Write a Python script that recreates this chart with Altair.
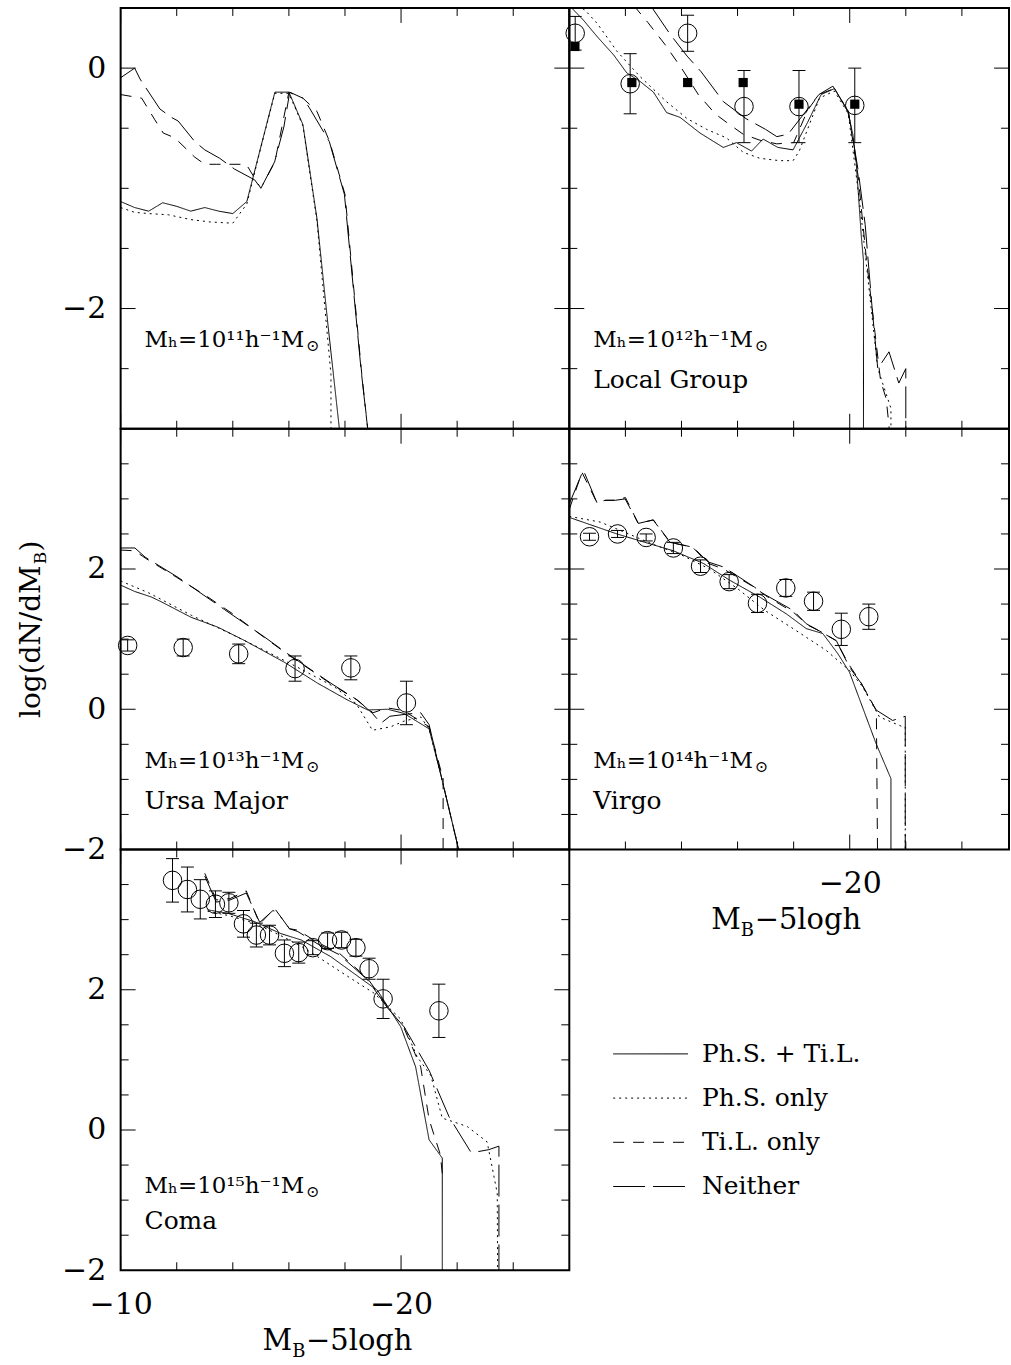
import altair as alt
import pandas as pd

FONT = "DejaVu Serif"
SERIES = ["Ph.S. + Ti.L.", "Ph.S. only", "Ti.L. only", "Neither"]
DASHES = [[1, 0], [2, 4], [11, 9], [32, 8]]

# ---------------- Panel 1: M_h = 1e11 ----------------
p1_solid_x = [-10.0, -10.5, -11.0, -11.5, -12.0, -12.5, -13.0, -13.5, -14.0, -14.5, -15.5, -16.0, -16.5, -17.0, -17.4, -17.8, -17.9]
p1_solid_y = [-1.11, -1.16, -1.19, -1.12, -1.15, -1.19, -1.16, -1.19, -1.21, -1.11, -0.20, -0.20, -0.47, -1.25, -2.15, -3.0, -3.3]
p1_dot_x = [-10.0, -10.5, -11.0, -11.7, -12.5, -13.2, -14.0, -14.5, -15.0, -15.5, -16.0, -16.5, -17.0, -17.5, -17.5]
p1_dot_y = [-1.16, -1.20, -1.21, -1.22, -1.26, -1.28, -1.29, -1.13, -0.66, -0.21, -0.21, -0.48, -1.27, -2.55, -3.5]
p1_tid_x = [-10.0, -10.75, -11.22, -11.52, -11.93, -12.64, -13.0, -13.41, -14.48, -15.0, -15.5, -16.0, -16.5, -17.0, -17.45, -18.0, -18.6, -19.0]
p1_tid_y = [-0.22, -0.25, -0.43, -0.54, -0.58, -0.74, -0.80, -0.80, -0.80, -1.0, -0.78, -0.20, -0.25, -0.36, -0.61, -1.05, -2.55, -3.4]
p1_nei_x = [-10.0, -10.5, -10.69, -11.4, -11.81, -12.05, -12.64, -13.0, -13.53, -14.06, -14.78, -15.0, -15.49, -15.82, -16.03, -16.5, -16.73, -17.44, -17.98, -18.57, -18.81, -19.0]
p1_nei_y = [-0.08, 0.0, -0.09, -0.34, -0.41, -0.44, -0.61, -0.68, -0.75, -0.84, -0.93, -1.0, -0.78, -0.49, -0.20, -0.25, -0.33, -0.61, -1.05, -2.5, -3.0, -3.3]

# ---------------- Panel 2: Local Group ----------------
p2_solid_x = [-10.0, -10.5, -11.0, -11.58, -12.05, -12.52, -13.0, -13.47, -13.95, -14.66, -15.49, -15.96, -16.5, -16.91, -17.44, -17.98, -18.5, -18.98, -19.46, -19.93, -20.11, -20.23, -20.41, -20.49, -20.49]
p2_solid_y = [0.52, 0.40, 0.26, 0.11, -0.04, -0.11, -0.20, -0.37, -0.41, -0.54, -0.66, -0.62, -0.69, -0.59, -0.66, -0.68, -0.45, -0.22, -0.17, -0.36, -0.55, -0.78, -1.39, -1.6, -3.2]
p2_dot_x = [-10.3, -10.57, -11.0, -11.7, -12.52, -13.47, -14.2, -14.9, -15.6, -16.2, -16.79, -17.5, -17.98, -18.2, -18.92, -19.45, -19.95, -20.35, -20.7, -21.0, -21.47, -21.47]
p2_dot_y = [0.52, 0.48, 0.37, 0.14, -0.07, -0.28, -0.42, -0.51, -0.58, -0.70, -0.75, -0.77, -0.77, -0.69, -0.25, -0.19, -0.38, -1.11, -1.86, -2.5, -2.83, -3.2]
p2_tid_x = [-12.3, -12.8, -13.4, -14.0, -14.6, -15.2, -15.6, -16.2, -16.8, -17.4, -18.0, -18.5, -18.9, -19.45, -19.95, -20.3, -20.6, -20.9, -21.1, -21.3, -21.5]
p2_tid_y = [0.52, 0.38, 0.20, 0.0, -0.22, -0.38, -0.45, -0.55, -0.60, -0.63, -0.62, -0.35, -0.22, -0.17, -0.36, -0.9, -1.6, -2.2, -2.6, -2.75, -3.2]
p2_nei_x = [-12.9, -13.6, -14.2, -14.7, -15.5, -16.3, -17.0, -17.4, -17.8, -18.3, -18.9, -19.4, -19.95, -20.3, -20.55, -20.8, -21.0, -21.4, -21.75, -22.0, -22.0]
p2_nei_y = [0.52, 0.28, 0.10, -0.03, -0.28, -0.42, -0.51, -0.57, -0.55, -0.40, -0.22, -0.15, -0.36, -0.85, -1.3, -2.0, -2.5, -2.36, -2.62, -2.5, -3.2]
p2_circ_m = [-10.21, -12.17, -14.22, -16.23, -18.19, -20.18]
p2_circ_v = [0.29, -0.13, 0.29, -0.32, -0.32, -0.31]
p2_circ_e = [0.14, 0.25, 0.15, 0.30, 0.30, 0.31]
p2_sq_m = [-10.2, -12.23, -14.22, -16.2, -18.19, -20.18]
p2_sq_v = [0.18, -0.12, -0.12, -0.12, -0.30, -0.30]

# ---------------- Panel 3: Ursa Major ----------------
p3_solid_x = [-10.0, -10.5, -11.1, -11.46, -12.52, -13.47, -14.42, -15.84, -17.03, -18.1, -18.81, -19.52, -20.11, -21.0, -21.41, -22.0, -22.2]
p3_solid_y = [1.77, 1.68, 1.60, 1.53, 1.31, 1.17, 0.98, 0.67, 0.37, 0.13, -0.01, 0.0, -0.06, -0.28, -0.92, -1.91, -2.3]
p3_dot_x = [-10.0, -11.0, -12.52, -13.8, -15.13, -16.3, -17.62, -18.4, -18.98, -19.63, -20.1, -20.7, -21.0, -21.4, -22.0, -22.2]
p3_dot_y = [1.83, 1.66, 1.34, 1.10, 0.84, 0.60, 0.32, 0.08, -0.30, -0.25, -0.17, -0.11, -0.28, -0.90, -1.90, -2.3]
p3_tid_x = [-10.0, -10.5, -10.9, -12.0, -13.0, -14.0, -15.0, -16.0, -17.0, -17.5, -18.4, -19.0, -19.5, -20.1, -20.6, -21.0, -21.45, -21.5, -21.5]
p3_tid_y = [2.27, 2.26, 2.15, 1.88, 1.63, 1.36, 1.06, 0.77, 0.50, 0.36, 0.14, -0.05, 0.02, -0.02, -0.15, -0.25, -0.92, -0.92, -2.3]
p3_nei_x = [-10.0, -10.51, -10.87, -12.05, -13.71, -15.13, -15.96, -17.5, -18.45, -18.98, -19.28, -19.6, -20.2, -20.7, -21.0, -21.41, -22.0, -22.2]
p3_nei_y = [2.30, 2.30, 2.17, 1.88, 1.42, 1.03, 0.79, 0.37, 0.13, -0.06, -0.20, -0.10, -0.07, -0.05, -0.22, -0.92, -1.91, -2.3]
p3_circ_m = [-10.25, -12.23, -14.21, -16.22, -18.21, -20.19]
p3_circ_v = [0.91, 0.88, 0.79, 0.58, 0.59, 0.09]
p3_circ_e = [0.08, 0.12, 0.14, 0.18, 0.17, 0.31]

# ---------------- Panel 4: Virgo ----------------
p4_solid_x = [-10.04, -11.7, -12.7, -13.71, -14.78, -15.72, -16.79, -17.74, -18.45, -19.04, -19.58, -19.99, -20.94, -21.47, -21.47]
p4_solid_y = [2.73, 2.50, 2.38, 2.26, 2.08, 1.84, 1.60, 1.36, 1.15, 1.08, 0.79, 0.53, -0.49, -0.99, -2.5]
p4_dot_x = [-10.0, -11.1, -12.0, -13.0, -14.0, -15.0, -16.0, -16.97, -17.98, -19.16, -20.0, -20.46, -21.06, -21.89, -21.98, -21.98]
p4_dot_y = [2.75, 2.67, 2.52, 2.35, 2.20, 2.00, 1.72, 1.41, 1.15, 0.84, 0.55, 0.32, -0.11, -0.25, -0.25, -2.5]
p4_tid_x = [-10.0, -10.45, -10.98, -11.3, -11.7, -12.0, -12.46, -13.0, -13.6, -14.4, -14.95, -15.5, -16.0, -16.6, -17.0, -17.5, -18.0, -18.5, -19.0, -19.5, -20.0, -20.4, -20.95, -21.0]
p4_tid_y = [2.85, 3.38, 2.95, 2.98, 2.98, 3.02, 2.65, 2.70, 2.38, 2.31, 2.08, 2.00, 1.88, 1.74, 1.62, 1.50, 1.38, 1.20, 1.10, 0.98, 0.62, 0.38, -0.02, -2.5]
p4_nei_x = [-10.0, -10.5, -10.98, -11.22, -11.64, -11.99, -12.46, -12.99, -13.59, -14.42, -14.95, -15.49, -16.0, -16.61, -16.91, -17.98, -18.45, -18.86, -19.52, -19.99, -20.41, -20.94, -21.53, -21.98, -21.98]
p4_nei_y = [2.93, 3.41, 2.95, 2.98, 2.98, 3.00, 2.65, 2.70, 2.38, 2.31, 2.10, 2.03, 1.90, 1.74, 1.65, 1.41, 1.22, 1.13, 0.98, 0.60, 0.37, -0.01, -0.16, -0.10, -2.5]
p4_circ_m = [-10.72, -11.72, -12.74, -13.71, -14.68, -15.70, -16.71, -17.72, -18.71, -19.70, -20.68]
p4_circ_v = [2.46, 2.50, 2.45, 2.30, 2.04, 1.82, 1.51, 1.73, 1.54, 1.14, 1.32]
p4_circ_e = [0.05, 0.05, 0.05, 0.08, 0.09, 0.10, 0.13, 0.12, 0.13, 0.23, 0.18]

# ---------------- Panel 5: Coma ----------------
p5_solid_x = [-13.1, -13.83, -14.78, -15.72, -16.44, -17.5, -18.33, -19.16, -19.99, -20.52, -21.0, -21.47, -21.47]
p5_solid_y = [3.14, 3.09, 2.97, 2.80, 2.71, 2.47, 2.23, 1.99, 1.47, 0.90, -0.14, -0.40, -2.5]
p5_dot_x = [-13.1, -13.83, -14.78, -15.72, -16.44, -17.03, -18.1, -19.04, -19.99, -20.58, -21.06, -21.47, -22.36, -23.07, -23.43, -23.45]
p5_dot_y = [3.12, 3.06, 2.95, 2.77, 2.62, 2.47, 2.19, 1.95, 1.58, 1.04, 0.78, 0.17, 0.05, -0.17, -0.90, -2.5]
p5_tid_x = [-13.0, -13.41, -13.9, -14.48, -14.96, -15.49, -16.02, -16.32, -17.0, -17.8, -18.81, -19.52, -20.11, -20.7, -21.0, -21.4, -21.47]
p5_tid_y = [3.66, 3.28, 3.30, 3.41, 2.94, 3.16, 2.87, 2.85, 2.68, 2.52, 2.16, 1.76, 1.45, 0.90, 0.15, -0.35, -0.62]
p5_nei_x = [-13.0, -13.41, -13.9, -14.48, -14.96, -15.43, -15.6, -16.02, -16.32, -17.0, -17.8, -18.81, -19.52, -20.11, -21.0, -21.71, -22.48, -22.72, -23.13, -23.49, -23.49]
p5_nei_y = [3.62, 3.25, 3.28, 3.38, 2.96, 3.13, 3.10, 2.87, 2.83, 2.66, 2.50, 2.14, 1.74, 1.47, 0.85, 0.19, -0.31, -0.31, -0.28, -0.23, -2.5]
p5_circ_m = [-11.85, -12.38, -12.84, -13.38, -13.86, -14.38, -14.84, -15.31, -15.84, -16.35, -16.85, -17.38, -17.88, -18.39, -18.86, -19.36, -21.35]
p5_circ_v = [3.56, 3.43, 3.29, 3.22, 3.24, 2.94, 2.78, 2.78, 2.52, 2.53, 2.60, 2.70, 2.71, 2.60, 2.30, 1.87, 1.70]
p5_circ_e = [0.31, 0.32, 0.28, 0.19, 0.15, 0.19, 0.17, 0.14, 0.19, 0.15, 0.10, 0.11, 0.11, 0.12, 0.15, 0.28, 0.38]

# ---------------- labels / ticks ----------------
mass_labels = ["Mₕ=10¹¹h⁻¹M", "Mₕ=10¹²h⁻¹M", "Mₕ=10¹³h⁻¹M", "Mₕ=10¹⁴h⁻¹M", "Mₕ=10¹⁵h⁻¹M"]
sun_symbol = "⊙"
group_names = ["", "Local Group", "Ursa Major", "Virgo", "Coma"]
x_major = [-10, -20]
x_minor = [-12, -14, -16, -18, -22, -24]
y_top_major = [0, -2]
y_top_minor = [-0.5, -1, -1.5, -2.5]
y_low_major = [0, 2]
y_low_minor = [-1.5, -1, -0.5, 0.5, 1, 1.5, 2.5, 3, 3.5]

W_L, W_R, H = 450, 441, 422
XDOM_L = [-10, -26]
XDOM_R = [-10, -25.68]
YDOM_TOP = [-3, 0.5]
YDOM_LOW = [-2, 4]
LABEL_SIZE = 30


def xenc(field, dom, vals):
    if vals:
        axis = alt.Axis(values=vals, ticks=False, tickSize=0, domain=False, grid=False,
                        labelFont=FONT, labelFontSize=LABEL_SIZE, labelColor="black",
                        labelPadding=19, labelFlush=False, labelOverlap=False, title=None)
    else:
        axis = None
    return alt.X(f"{field}:Q", scale=alt.Scale(domain=dom, nice=False, zero=False), axis=axis)


def yenc(field, dom, vals):
    if vals:
        axis = alt.Axis(values=vals, ticks=False, tickSize=0, domain=False, grid=False,
                        labelFont=FONT, labelFontSize=LABEL_SIZE, labelColor="black",
                        labelPadding=15, labelFlush=False, labelOverlap=False, title=None)
    else:
        axis = None
    return alt.Y(f"{field}:Q", scale=alt.Scale(domain=dom, nice=False, zero=False), axis=axis)


def text_layer(txt, x, y, size, align="left", angle=0):
    kw = dict(font=FONT, fontSize=size, align=align, baseline="middle", color="black")
    if angle:
        kw["angle"] = angle
    return alt.Chart(pd.DataFrame({"t": [txt]})).mark_text(**kw).encode(
        text="t:N", x=alt.value(x), y=alt.value(y))


def make_panel(series_xy, xdom, ydom, width, xvals, yvals, ymaj, ymin, mass, mass_y, name,
               circ=None, sq=None, extra=()):
    X = lambda f: xenc(f, xdom, xvals)
    Y = lambda f: yenc(f, ydom, yvals)
    rows = []
    for s, (xs, ys) in zip(SERIES, series_xy):
        for i, (a, b) in enumerate(zip(xs, ys)):
            rows.append({"m": a, "v": b, "s": s, "i": i})
    ldf = pd.DataFrame(rows)
    layers = [alt.Chart(ldf).mark_line(clip=True, color="black", strokeWidth=1).encode(
        x=X("m"), y=Y("v"),
        strokeDash=alt.StrokeDash("s:N", scale=alt.Scale(domain=SERIES, range=DASHES), legend=None),
        order="i:Q")]
    if circ is not None:
        cm, cv, ce = circ
        cdf = pd.DataFrame({"m": cm, "v": cv,
                            "lo": [a - b for a, b in zip(cv, ce)],
                            "hi": [a + b for a, b in zip(cv, ce)]})
        base = alt.Chart(cdf)
        layers.append(base.mark_rule(color="black", strokeWidth=1, clip=True).encode(
            x=X("m"), y=Y("lo"), y2="hi:Q"))
        layers.append(base.mark_tick(orient="horizontal", size=13, thickness=1, color="black", opacity=1).encode(
            x=X("m"), y=Y("lo")))
        layers.append(base.mark_tick(orient="horizontal", size=13, thickness=1, color="black", opacity=1).encode(
            x=X("m"), y=Y("hi")))
        layers.append(base.mark_point(shape="circle", size=345, filled=False, color="black",
                                      strokeWidth=1, opacity=1).encode(x=X("m"), y=Y("v")))
    if sq is not None:
        sdf = pd.DataFrame({"m": sq[0], "v": sq[1]})
        layers.append(alt.Chart(sdf).mark_point(shape="square", size=85, filled=True, color="black",
                                                opacity=1).encode(x=X("m"), y=Y("v")))
    # inward tick marks on all four sides
    for vals, L in [(x_major, 15), (x_minor, 8)]:
        b = alt.Chart(pd.DataFrame({"tv": vals}))
        layers.append(b.mark_rule(color="black", strokeWidth=1).encode(
            x=X("tv"), y=alt.value(0), y2=alt.value(L)))
        layers.append(b.mark_rule(color="black", strokeWidth=1).encode(
            x=X("tv"), y=alt.value(H), y2=alt.value(H - L)))
    for vals, L in [(ymaj, 15), (ymin, 8)]:
        b = alt.Chart(pd.DataFrame({"tv": vals}))
        layers.append(b.mark_rule(color="black", strokeWidth=1).encode(
            y=Y("tv"), x=alt.value(0), x2=alt.value(L)))
        layers.append(b.mark_rule(color="black", strokeWidth=1).encode(
            y=Y("tv"), x=alt.value(width), x2=alt.value(width - L)))
    layers.append(text_layer(mass, 24, mass_y, 23))
    layers.append(text_layer(sun_symbol, 186, mass_y + 6, 16))
    if name:
        layers.append(text_layer(name, 24, 373, 25))
    layers.extend(extra)
    return alt.layer(*layers).properties(width=width, height=H)


def xtitle_layers():
    return [text_layer("M", 172, H + 71, 29, align="right"),
            text_layer("B", 172, H + 82, 18),
            text_layer("−5logh", 186, H + 71, 29)]


ytitle = [text_layer("log(dN/dM", -89, 137, 28, align="right", angle=270),
          text_layer("B", -80, 136, 17, align="left", angle=270),
          text_layer(")", -89, 123, 28, align="left", angle=270)]

p1 = make_panel([(p1_solid_x, p1_solid_y), (p1_dot_x, p1_dot_y), (p1_tid_x, p1_tid_y), (p1_nei_x, p1_nei_y)],
                XDOM_L, YDOM_TOP, W_L, None, [0, -2], y_top_major, y_top_minor,
                mass_labels[0], 333, group_names[0])
p2 = make_panel([(p2_solid_x, p2_solid_y), (p2_dot_x, p2_dot_y), (p2_tid_x, p2_tid_y), (p2_nei_x, p2_nei_y)],
                XDOM_R, YDOM_TOP, W_R, None, None, y_top_major, y_top_minor,
                mass_labels[1], 333, group_names[1],
                circ=(p2_circ_m, p2_circ_v, p2_circ_e), sq=(p2_sq_m, p2_sq_v))
p3 = make_panel([(p3_solid_x, p3_solid_y), (p3_dot_x, p3_dot_y), (p3_tid_x, p3_tid_y), (p3_nei_x, p3_nei_y)],
                XDOM_L, YDOM_LOW, W_L, None, [-2, 0, 2], y_low_major, y_low_minor,
                mass_labels[2], 333, group_names[2],
                circ=(p3_circ_m, p3_circ_v, p3_circ_e), extra=ytitle)
p4 = make_panel([(p4_solid_x, p4_solid_y), (p4_dot_x, p4_dot_y), (p4_tid_x, p4_tid_y), (p4_nei_x, p4_nei_y)],
                XDOM_R, YDOM_LOW, W_R, [-20], None, y_low_major, y_low_minor,
                mass_labels[3], 333, group_names[3],
                circ=(p4_circ_m, p4_circ_v, p4_circ_e), extra=xtitle_layers())
p5 = make_panel([(p5_solid_x, p5_solid_y), (p5_dot_x, p5_dot_y), (p5_tid_x, p5_tid_y), (p5_nei_x, p5_nei_y)],
                XDOM_L, YDOM_LOW, W_L, [-10, -20], [-2, 0, 2], y_low_major, y_low_minor,
                mass_labels[4], 338, group_names[4],
                circ=(p5_circ_m, p5_circ_v, p5_circ_e), extra=xtitle_layers())

# legend cell
leg_df = pd.DataFrame({"s": SERIES})
leg_y = alt.Y("s:N", scale=alt.Scale(type="point", domain=SERIES, range=[205, 338], padding=0), axis=None)
leg_rules = alt.Chart(leg_df).mark_rule(color="black", strokeWidth=1).encode(
    y=leg_y, x=alt.value(44), x2=alt.value(119),
    strokeDash=alt.StrokeDash("s:N", scale=alt.Scale(domain=SERIES, range=DASHES), legend=None))
leg_text = alt.Chart(leg_df).mark_text(align="left", baseline="middle", font=FONT, fontSize=25,
                                       color="black").encode(y=leg_y, x=alt.value(133), text="s:N")
leg = alt.layer(leg_rules, leg_text).properties(width=W_R, height=H,
                                               view=alt.ViewBackground(strokeOpacity=0))

chart = alt.concat(p1, p2, p3, p4, p5, leg, columns=2, spacing=0, bounds="flush").properties(
    padding={"left": 17, "top": 4, "right": 0, "bottom": 3},
    background="white",
).configure_view(stroke="black", strokeWidth=2)

chart.save("out.html", embed_options={"renderer": "svg", "actions": False})
